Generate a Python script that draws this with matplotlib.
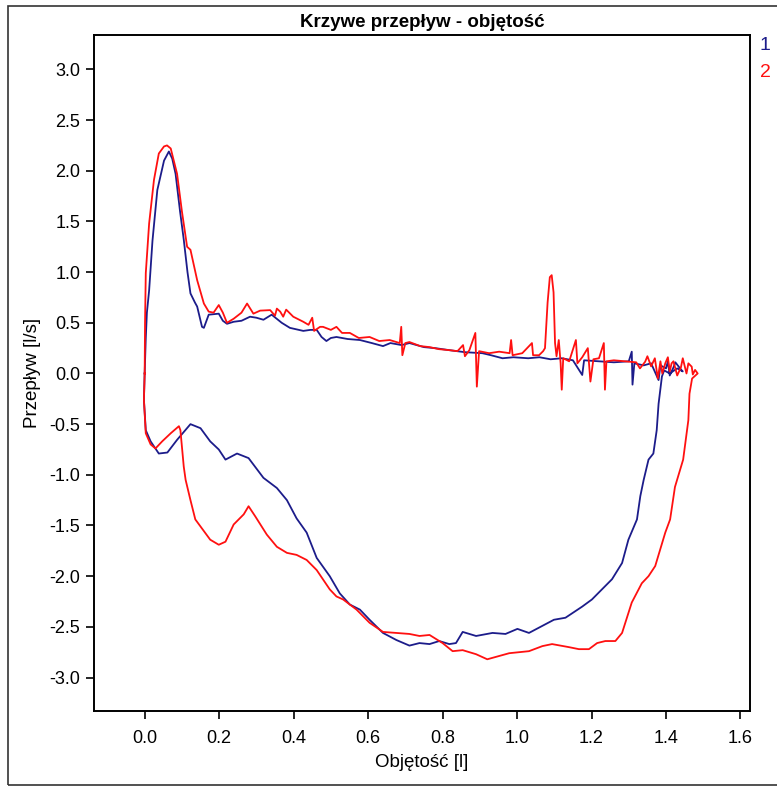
import matplotlib
matplotlib.use("Agg")
import matplotlib.pyplot as plt
from matplotlib.patches import Rectangle
from matplotlib.ticker import FuncFormatter

plt.rcParams["font.family"] = ["Liberation Sans", "DejaVu Sans"]

# Krzywa 1 (granatowa): wydech, potem wdech
blue_x = [0.0, 0.003, 0.006, 0.012, 0.021, 0.034, 0.052, 0.065, 0.074, 0.083, 0.095, 0.105, 0.115,
          0.123, 0.135, 0.141, 0.154, 0.159, 0.172, 0.199, 0.21, 0.221, 0.239, 0.26, 0.283, 0.30,
          0.319, 0.341, 0.368, 0.39, 0.426, 0.445, 0.462, 0.475, 0.488, 0.50, 0.515, 0.545, 0.578,
          0.61, 0.64, 0.66, 0.69, 0.711, 0.75, 0.78, 0.818, 0.86, 0.907, 0.93, 0.961, 0.99, 1.03,
          1.06, 1.09, 1.12, 1.15, 1.175, 1.18, 1.22, 1.26, 1.30, 1.308, 1.31, 1.315, 1.34, 1.36,
          1.38, 1.385, 1.40, 1.405, 1.41, 1.42, 1.425, 1.44, 1.445, 1.43, 1.41, 1.395, 1.389,
          1.38, 1.375, 1.366, 1.353,
          1.34, 1.331, 1.322, 1.299, 1.282, 1.255, 1.228, 1.201, 1.175, 1.13, 1.099, 1.068, 1.032,
          1.001, 0.969, 0.934, 0.89, 0.854, 0.836, 0.818, 0.791, 0.765, 0.738, 0.711, 0.676, 0.64,
          0.604, 0.578, 0.551, 0.524, 0.497, 0.462, 0.435, 0.408, 0.382, 0.355, 0.319, 0.279,
          0.248, 0.217, 0.199, 0.176, 0.15, 0.123, 0.087, 0.061, 0.038, 0.016, 0.003, -0.002, 0.0]
blue_y = [0.0, 0.35, 0.6, 0.82, 1.31, 1.81, 2.10, 2.19, 2.12, 1.97, 1.6, 1.32, 1.0,
          0.79, 0.7, 0.66, 0.46, 0.45, 0.58, 0.59, 0.52, 0.49, 0.51, 0.52, 0.56, 0.55,
          0.53, 0.58, 0.50, 0.45, 0.42, 0.43, 0.43, 0.36, 0.32, 0.35, 0.36, 0.34, 0.33,
          0.30, 0.27, 0.30, 0.28, 0.30, 0.26, 0.25, 0.23, 0.21, 0.20, 0.18, 0.15, 0.16, 0.15,
          0.16, 0.14, 0.15, 0.13, -0.015, 0.13, 0.12, 0.11, 0.12, 0.215, -0.11, 0.10, 0.08, 0.10,
          -0.065, 0.08, 0.05, 0.12, -0.02, 0.06, 0.11, 0.04, 0.02, 0.05, 0.0, 0.03, -0.03,
          -0.3, -0.56, -0.79, -0.85,
          -1.05, -1.21, -1.44, -1.64, -1.87, -2.03, -2.13, -2.23, -2.30, -2.41, -2.43, -2.49, -2.56,
          -2.52, -2.57, -2.56, -2.59, -2.55, -2.66, -2.67, -2.64, -2.67, -2.66, -2.685, -2.63, -2.56,
          -2.43, -2.33, -2.28, -2.17, -2.0, -1.82, -1.57, -1.43, -1.25, -1.13, -1.03, -0.835,
          -0.79, -0.85, -0.75, -0.67, -0.54, -0.50, -0.655, -0.78, -0.79, -0.67, -0.56, -0.26, 0.0]

# Krzywa 2 (czerwona)
red_x = [0.0, 0.001, 0.003, 0.012, 0.025, 0.038, 0.052, 0.06, 0.07, 0.087, 0.10, 0.114, 0.123,
         0.141, 0.159, 0.172, 0.185, 0.199, 0.21, 0.221, 0.239, 0.26, 0.275, 0.292, 0.31, 0.337,
         0.35, 0.355, 0.364, 0.372, 0.38, 0.399, 0.426, 0.44, 0.45, 0.455, 0.471, 0.479, 0.50,
         0.515, 0.53, 0.551, 0.575, 0.604, 0.63, 0.658, 0.685, 0.689, 0.692, 0.70, 0.711, 0.74,
         0.765, 0.79, 0.818, 0.84, 0.855, 0.86, 0.872, 0.888, 0.892, 0.898, 0.925, 0.952, 0.98,
         0.984, 0.988, 1.014, 1.04, 1.043, 1.059, 1.07, 1.075, 1.082, 1.088, 1.093, 1.098, 1.102,
         1.106, 1.112, 1.117, 1.12, 1.124, 1.14, 1.158, 1.162, 1.175, 1.19, 1.197, 1.205, 1.22,
         1.233, 1.236, 1.24, 1.26, 1.29, 1.32, 1.33, 1.344, 1.35, 1.36, 1.37, 1.378, 1.385, 1.39,
         1.398, 1.405, 1.41, 1.415, 1.42, 1.43, 1.44, 1.445, 1.455, 1.46, 1.469, 1.472, 1.478,
         1.485, 1.47, 1.463, 1.46, 1.446, 1.424, 1.411, 1.398, 1.371,
         1.353, 1.335, 1.308, 1.282, 1.264, 1.237, 1.215, 1.193, 1.166, 1.139, 1.094, 1.068,
         1.032, 0.979, 0.92, 0.89, 0.854, 0.827, 0.80, 0.765, 0.738, 0.711, 0.676, 0.64, 0.604,
         0.569, 0.551, 0.533, 0.515, 0.497, 0.462, 0.435, 0.408, 0.382, 0.355, 0.328, 0.297,
         0.279, 0.266, 0.239, 0.217, 0.199, 0.176, 0.154, 0.136, 0.123, 0.11, 0.105, 0.096,
         0.092, 0.07, 0.047, 0.029, 0.016, 0.003, -0.002, 0.0]
red_y = [0.0, 0.5, 0.99, 1.48, 1.91, 2.17, 2.24, 2.25, 2.22, 1.97, 1.6, 1.25, 1.22,
         0.92, 0.69, 0.61, 0.60, 0.675, 0.60, 0.50, 0.54, 0.60, 0.69, 0.59, 0.62, 0.625,
         0.57, 0.64, 0.61, 0.56, 0.63, 0.56, 0.51, 0.48, 0.55, 0.42, 0.46, 0.46, 0.43,
         0.46, 0.40, 0.40, 0.35, 0.36, 0.32, 0.33, 0.30, 0.46, 0.18, 0.30, 0.31, 0.27,
         0.26, 0.24, 0.23, 0.22, 0.28, 0.17, 0.23, 0.40, -0.13, 0.22, 0.20, 0.215, 0.20,
         0.33, 0.18, 0.20, 0.30, 0.18, 0.18, 0.22, 0.25, 0.70, 0.95, 0.97, 0.80, 0.30,
         0.17, 0.33, 0.10, -0.16, 0.15, 0.12, 0.33, 0.10, 0.16, 0.25, -0.08, 0.14, 0.15,
         0.30, -0.16, 0.12, 0.13, 0.12, 0.11, 0.05, 0.116, 0.17, 0.07, 0.15, -0.05, 0.12, 0.0,
         0.10, 0.16, 0.02, 0.10, 0.12, -0.02, 0.06, 0.15, 0.0, 0.10, 0.067, -0.01, 0.035,
         0.0, -0.05, -0.2, -0.46, -0.85, -1.12, -1.44, -1.57, -1.90,
         -2.0, -2.07, -2.26, -2.56, -2.64, -2.64, -2.66, -2.72, -2.72, -2.70, -2.67, -2.69,
         -2.74, -2.76, -2.82, -2.77, -2.73, -2.74, -2.66, -2.58, -2.59, -2.57, -2.56, -2.55, -2.46,
         -2.33, -2.28, -2.23, -2.20, -2.13, -1.94, -1.84, -1.79, -1.77, -1.71, -1.59, -1.41,
         -1.31, -1.39, -1.49, -1.66, -1.69, -1.64, -1.53, -1.44, -1.25, -1.05, -0.92, -0.56,
         -0.52, -0.59, -0.67, -0.74, -0.70, -0.59, -0.26, 0.0]

x_ticks = [0.0, 0.2, 0.4, 0.6, 0.8, 1.0, 1.2, 1.4, 1.6]
y_ticks = [-3.0, -2.5, -2.0, -1.5, -1.0, -0.5, 0.0, 0.5, 1.0, 1.5, 2.0, 2.5, 3.0]

blue = "#1c1c8a"
red = "#ff1010"

fig = plt.figure(figsize=(7.77, 7.87), dpi=100)
fig.patches.append(Rectangle((0.0103, 0.003), 1.1, 0.990, transform=fig.transFigure,
                             fill=False, edgecolor="#333333", linewidth=1.2))
ax = fig.add_axes([0.121, 0.0966, 0.844, 0.859])

ax.plot(blue_x, blue_y, color=blue, linewidth=1.3)
ax.plot(red_x, red_y, color=red, linewidth=1.3)

ax.set_xlim(-0.136, 1.625)
ax.set_ylim(-3.33, 3.34)
ax.set_xticks(x_ticks)
ax.set_yticks(y_ticks)
ax.xaxis.set_major_formatter(FuncFormatter(lambda v, p: "%.1f" % v))
ax.yaxis.set_major_formatter(FuncFormatter(lambda v, p: "%.1f" % v))
ax.tick_params(direction="out", length=6, width=1.2, labelsize=13, pad=4)
ax.tick_params(axis="x", pad=8)
for s in ax.spines.values():
    s.set_linewidth(1.4)

ax.set_title("Krzywe przepływ - objętość", fontsize=13.5, fontweight="bold", pad=6)
ax.set_xlabel("Objętość [l]", fontsize=13.5, labelpad=5)
ax.set_ylabel("Przepływ [l/s]", fontsize=13.5, labelpad=6)

fig.text(0.985, 0.942, "1", color=blue, fontsize=14, ha="center", va="center")
fig.text(0.985, 0.908, "2", color=red, fontsize=14, ha="center", va="center")

fig.savefig("out.png", dpi=100)
